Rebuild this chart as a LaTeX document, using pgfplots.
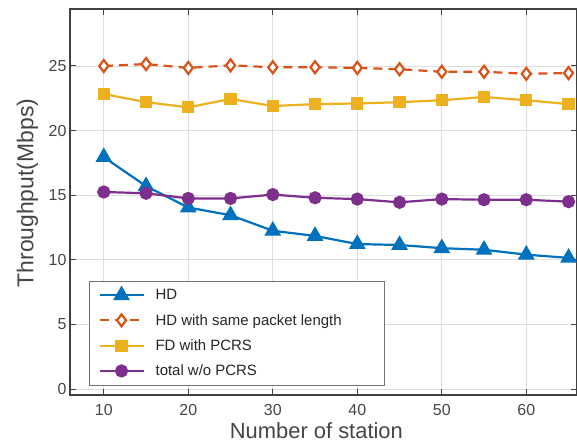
\documentclass[border=0pt]{standalone}
\usepackage{fontspec}
\setmainfont{Liberation Sans}
\usepackage{pgfplots}
\pgfplotsset{compat=1.18}
\definecolor{mblue}{rgb}{0,0.447,0.741}
\definecolor{morange}{rgb}{0.85,0.325,0.098}
\definecolor{myellow}{rgb}{0.929,0.694,0.125}
\definecolor{mpurple}{rgb}{0.494,0.184,0.556}
\definecolor{axgray}{gray}{0.25}
\definecolor{txtgray}{gray}{0.27}
\begin{document}
\begin{tikzpicture}
\begin{axis}[
  scale only axis, width=507bp, height=386bp,
  xmin=6, xmax=66, ymin=-0.46, ymax=29.41,
  xtick={10,20,...,60}, ytick={0,5,...,25},
  tick pos=both, tick align=inside, major tick length=6bp,
  grid=major, major grid style={draw=black!13, line width=0.8bp},
  axis line style={draw=axgray, line width=1.5bp},
  every tick/.style={draw=axgray, line width=1bp},
  tick label style={font=\fontsize{16}{19}\selectfont, text=txtgray},
  xticklabel style={yshift=-6bp},
  /pgf/number format/assume math mode=true,
  xlabel={Number of station},
  ylabel={Throughput(Mbps)},
  xlabel style={font=\fontsize{22}{26}\selectfont, text=txtgray, at={(axis description cs:0.486,-0.113)}, anchor=base},
  ylabel style={font=\fontsize{23}{26}\selectfont, text=txtgray, at={(axis description cs:-0.072,0.523)}, anchor=base},
  legend cell align=left,
  legend image code/.code={\draw[mark repeat=2,mark phase=2,#1] plot coordinates {(0bp,0bp) (22bp,0bp) (44bp,0bp)};},
  legend style={at={(rel axis cs:0.0375,0.0233)}, anchor=south west, draw=black!55, line width=0.8bp, fill=white,
     font=\fontsize{15}{18}\selectfont, text=black!85, row sep=9bp, inner xsep=9bp, inner ysep=6.5bp,
     /tikz/every odd column/.append style={column sep=9bp}},
]
\addplot[mblue, line width=2.2bp, mark=triangle*, mark size=7.5bp, mark options={solid, fill=mblue}] coordinates {
 (10,17.95)(15,15.7)(20,14.05)(25,13.45)(30,12.25)(35,11.85)(40,11.22)(45,11.15)(50,10.9)(55,10.78)(60,10.4)(65,10.15)};
\addlegendentry{HD}
\addplot[morange, line width=2.2bp, dash pattern=on 9bp off 6bp, mark=diamond*, mark size=6bp, mark options={solid, fill=white, draw=morange}] coordinates {
 (10,25.0)(15,25.15)(20,24.85)(25,25.05)(30,24.9)(35,24.9)(40,24.85)(45,24.75)(50,24.55)(55,24.55)(60,24.4)(65,24.45)};
\addlegendentry{HD with same packet length\hspace*{32bp}}
\addplot[myellow, line width=2.2bp, mark=square*, mark size=5bp, mark options={solid, fill=myellow}] coordinates {
 (10,22.83)(15,22.2)(20,21.8)(25,22.45)(30,21.9)(35,22.05)(40,22.1)(45,22.2)(50,22.35)(55,22.6)(60,22.35)(65,22.05)};
\addlegendentry{FD with PCRS}
\addplot[mpurple, line width=2.2bp, mark=*, mark size=5.5bp, mark options={solid, fill=mpurple}] coordinates {
 (10,15.25)(15,15.15)(20,14.75)(25,14.75)(30,15.05)(35,14.8)(40,14.7)(45,14.45)(50,14.7)(55,14.65)(60,14.65)(65,14.5)};
\addlegendentry{total w/o PCRS}
\coordinate (bbsw) at (rel axis cs:0,0);
\end{axis}
\pgfresetboundingbox
\path[use as bounding box] (bbsw) ++(-70bp,-48bp) rectangle ++(577bp,443bp);
\end{tikzpicture}
\end{document}
